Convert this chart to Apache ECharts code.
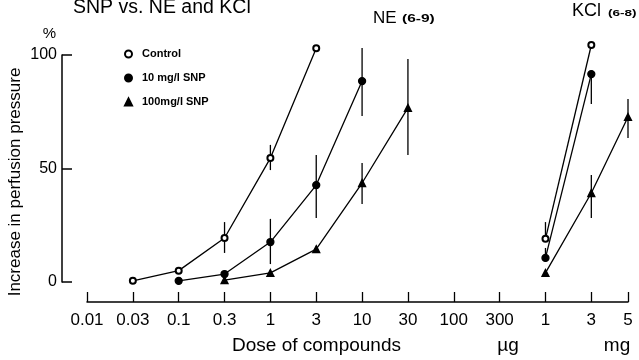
<!DOCTYPE html>
<html>
<head>
<meta charset="utf-8">
<script src="https://cdn.jsdelivr.net/npm/echarts@6/dist/echarts.min.js"></script>
<style>
html,body{margin:0;padding:0;background:#fff;}
#chart{width:639px;height:360px;}
</style>
</head>
<body>
<div id="chart"></div>
<script>
// Tick labels of the dose axis and their axis positions (NE doses, then KCl doses)
const tickLabels = ['0.01','0.03','0.1','0.3','1','3','10','30','100','300','1','3','5'];
const tickPos = [0,1,2,3,4,5,6,7,8,9,10,11,11.8];
const yTicks = [0,50,100];

// NE (6-9): indices into tickLabels, values in %
const controlNeIdx = [1,2,3,4,5];
const controlNeVal = [0.5,5,19.4,54.6,103];
const snp10NeIdx = [2,3,4,5,6];
const snp10NeVal = [0.5,3.5,17.6,42.7,88.5];
const snp100NeIdx = [3,4,5,6,7];
const snp100NeVal = [0.8,4,14.5,43.6,76.7];

// KCl (6-8)
const controlKclIdx = [10,11];
const controlKclVal = [19,104.4];
const snp10KclIdx = [10,11];
const snp10KclVal = [10.6,91.6];
const snp100KclIdx = [10,11,12];
const snp100KclVal = [4,39.2,72.7];

// Error bars: [tick index, low, high]
const errorBars = [
  [3,12.8,26.4],[4,49.3,60.4],
  [4,7.9,27.8],[5,28.2,55.9],[6,73.1,103.1],
  [6,34.4,52.4],[7,55.9,98.2],
  [10,19,26.4],[10,10.6,15],[11,78.4,91.6],
  [11,28.2,47.1],[12,63.4,80.6]
];

const FONT = 'Liberation Sans, Arial, Helvetica, sans-serif';
const toData = (idx, val) => idx.map((i, k) => [tickPos[i], val[k]]);

function lineSeries(name, symbol, size, idx, val) {
  return {
    type: 'line', name: name, data: toData(idx, val),
    symbol: symbol, symbolSize: size, clip: false,
    itemStyle: { color: '#000', borderColor: '#000', borderWidth: 1.3 },
    lineStyle: { color: '#000', width: 1.3 },
    emphasis: { disabled: true }, animation: false, z: 3
  };
}

const chart = echarts.init(document.getElementById('chart'), null, { renderer: 'canvas' });
chart.setOption({
  backgroundColor: '#fff',
  animation: false,
  textStyle: { fontFamily: FONT, color: '#000' },
  grid: { left: 87, right: 11, top: 55, bottom: 78 },
  legend: {
    orient: 'vertical', left: 124, top: 48, padding: 0,
    itemWidth: 7, itemHeight: 7, itemGap: 12,
    selectedMode: false,
    textStyle: { fontFamily: FONT, fontSize: 11, fontWeight: 'bold', color: '#000', lineHeight: 12, padding: [0,0,0,5] },
    data: [
      { name: 'Control', icon: 'emptyCircle' },
      { name: '10 mg/l SNP', icon: 'circle' },
      { name: '100mg/l SNP', icon: 'triangle' }
    ]
  },
  xAxis: {
    type: 'value', min: 0, max: 11.8, offset: 20,
    axisLine: { show: true, onZero: false, lineStyle: { color: '#000', width: 1.5 } },
    axisTick: { show: true, inside: true, length: 10, customValues: tickPos, lineStyle: { color: '#000', width: 1.3 } },
    axisLabel: {
      customValues: tickPos, margin: 10, fontSize: 17, color: '#000', fontFamily: FONT,
      formatter: function (v) {
        for (let i = 0; i < tickPos.length; i++) if (Math.abs(tickPos[i] - v) < 1e-6) return tickLabels[i];
        return '';
      }
    },
    splitLine: { show: false }
  },
  yAxis: {
    type: 'value', min: 0, max: 100, interval: 50, offset: 25,
    axisLine: { show: true, onZero: false, lineStyle: { color: '#000', width: 1.5 } },
    axisTick: { show: true, inside: true, length: 10, lineStyle: { color: '#000', width: 1.5 } },
    axisLabel: { customValues: yTicks, margin: 5, fontSize: 16, color: '#000', fontFamily: FONT },
    splitLine: { show: false }
  },
  series: [
    lineSeries('Control', 'emptyCircle', 6, controlNeIdx, controlNeVal),
    lineSeries('10 mg/l SNP', 'circle', 7, snp10NeIdx, snp10NeVal),
    lineSeries('100mg/l SNP', 'triangle', 7, snp100NeIdx, snp100NeVal),
    lineSeries('Control', 'emptyCircle', 6, controlKclIdx, controlKclVal),
    lineSeries('10 mg/l SNP', 'circle', 7, snp10KclIdx, snp10KclVal),
    lineSeries('100mg/l SNP', 'triangle', 7, snp100KclIdx, snp100KclVal),
    {
      type: 'custom', name: 'error', data: errorBars.map(e => [tickPos[e[0]], e[1], e[2]]),
      clip: false, z: 2, silent: true,
      renderItem: function (params, api) {
        const p1 = api.coord([api.value(0), api.value(1)]);
        const p2 = api.coord([api.value(0), api.value(2)]);
        return { type: 'line', shape: { x1: p1[0], y1: p1[1], x2: p2[0], y2: p2[1] }, style: { stroke: '#000', lineWidth: 1.3 } };
      }
    }
  ],
  graphic: [
    { type: 'text', x: 73, y: 8, style: { text: 'SNP vs. NE and KCl', font: '19.5px ' + FONT, fill: '#000', verticalAlign: 'middle' } },
    { type: 'text', x: 49.5, y: 33.5, style: { text: '%', font: '15px ' + FONT, fill: '#000', align: 'center', verticalAlign: 'middle' } },
    { type: 'text', x: 373, y: 18, style: { text: 'NE', font: '17px ' + FONT, fill: '#000', verticalAlign: 'middle' } },
    { type: 'text', x: 402, y: 19.5, scaleX: 1.55, style: { text: '(6-9)', font: 'bold 10px ' + FONT, fill: '#000', verticalAlign: 'middle' } },
    { type: 'text', x: 572, y: 11.5, style: { text: 'KCl', font: '18px ' + FONT, fill: '#000', verticalAlign: 'middle' } },
    { type: 'text', x: 608, y: 13.5, scaleX: 1.5, style: { text: '(6-8)', font: 'bold 9px ' + FONT, fill: '#000', verticalAlign: 'middle' } },
    { type: 'text', x: 15, y: 182, rotation: Math.PI / 2, style: { text: 'Increase in perfusion pressure', font: '17px ' + FONT, fill: '#000', align: 'center', verticalAlign: 'middle' } },
    { type: 'text', x: 232, y: 346, style: { text: 'Dose of compounds', font: '19px ' + FONT, fill: '#000', verticalAlign: 'middle' } },
    { type: 'text', x: 508, y: 346, style: { text: 'µg', font: '19px ' + FONT, fill: '#000', align: 'center', verticalAlign: 'middle' } },
    { type: 'text', x: 617, y: 346, style: { text: 'mg', font: '19px ' + FONT, fill: '#000', align: 'center', verticalAlign: 'middle' } }
  ]
});
</script>
</body>
</html>
